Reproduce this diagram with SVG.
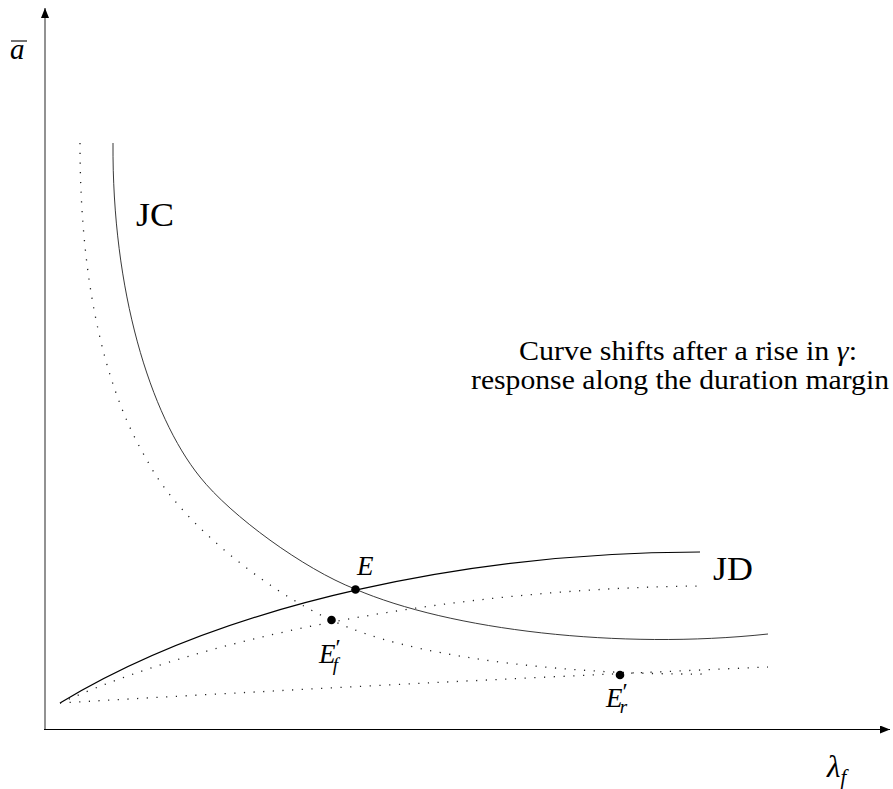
<svg xmlns="http://www.w3.org/2000/svg" width="893" height="789" viewBox="0 0 893 789">
<style>
  text { font-family: "Liberation Serif", "Times New Roman", serif; fill: #000; }
  .lbl { font-size: 33px; }
  .pt { font-size: 27px; font-style: italic; }
  .note { font-size: 28px; text-anchor: middle; }
  .solid { fill: none; stroke: #000; stroke-width: 1.2; }
  .thin { fill: none; stroke: #222; stroke-width: 0.9; }
  .dots { fill: none; stroke: #222; stroke-width: 1.3; stroke-dasharray: 1.2 8.5; stroke-linecap: butt; }
  .dot { fill: #000; }
</style>
<defs>
  <marker id="arr" viewBox="0 0 10 8" refX="10" refY="4" markerWidth="10" markerHeight="8" markerUnits="userSpaceOnUse" orient="auto">
    <path d="M0,0 L10,4 L0,8 Z" fill="#000"/>
  </marker>
</defs>
<rect width="893" height="789" fill="#fff"/>

<g id="axes">
  <line x1="45" y1="730" x2="45" y2="8" stroke="#777" stroke-width="1.6" marker-end="url(#arr)"/>
  <line x1="44" y1="729.5" x2="890" y2="729.5" stroke="#000" stroke-width="1.2" marker-end="url(#arr)"/>
</g>

<g id="connectors">
  <path id="JC" class="thin" d="M113,143 C112,290 150,415 200,477 C231,516 304,569 355,589 C450,630 620,650 768,634"/>
  <path id="JC-shift" class="dots" d="M80,143 C80,300 111,400 147,460 C180,525 280,602 350,628 C430,660 580,675 705,674"/>
  <path id="JD" class="solid" d="M60,703 C230,600 480,552 700,552"/>
  <path id="JD-shift" class="dots" d="M60,703 C240,622 500,588 700,586"/>
  <path id="JD-low" class="dots" d="M60,703 Q400,683 768,667"/>
</g>

<g id="point-E">
  <circle class="dot" cx="355.5" cy="589.5" r="4.3"/>
  <text class="pt" x="357" y="575">E</text>
</g>
<g id="point-Ef">
  <circle class="dot" cx="331.5" cy="620" r="4.3"/>
  <text class="pt" x="319" y="663">E<tspan font-style="normal" font-size="24" dy="-8">′</tspan><tspan font-size="19" dx="-8" dy="16">f</tspan></text>
</g>
<g id="point-Er">
  <circle class="dot" cx="620" cy="675" r="4.3"/>
  <text class="pt" x="606" y="707">E<tspan font-style="normal" font-size="24" dy="-8">′</tspan><tspan font-size="19" dx="-8" dy="14">r</tspan></text>
</g>

<g id="label-JC"><text class="lbl" x="136" y="226" textLength="38" lengthAdjust="spacingAndGlyphs">JC</text></g>
<g id="label-JD"><text class="lbl" x="713" y="580" textLength="40" lengthAdjust="spacingAndGlyphs">JD</text></g>

<g id="note">
  <text class="note" x="688" y="360" textLength="338" lengthAdjust="spacingAndGlyphs">Curve shifts after a rise in <tspan font-style="italic">γ</tspan>:</text>
  <text class="note" x="680" y="389" textLength="418" lengthAdjust="spacingAndGlyphs">response along the duration margin</text>
</g>

<g id="axis-labels">
  <line x1="11" y1="41" x2="27" y2="41" stroke="#000" stroke-width="1.1"/>
  <text x="10" y="59" font-size="29" font-style="italic">a</text>
  <text x="827" y="777" font-size="31" font-style="italic">λ<tspan font-size="21" dy="7">f</tspan></text>
</g>
</svg>
